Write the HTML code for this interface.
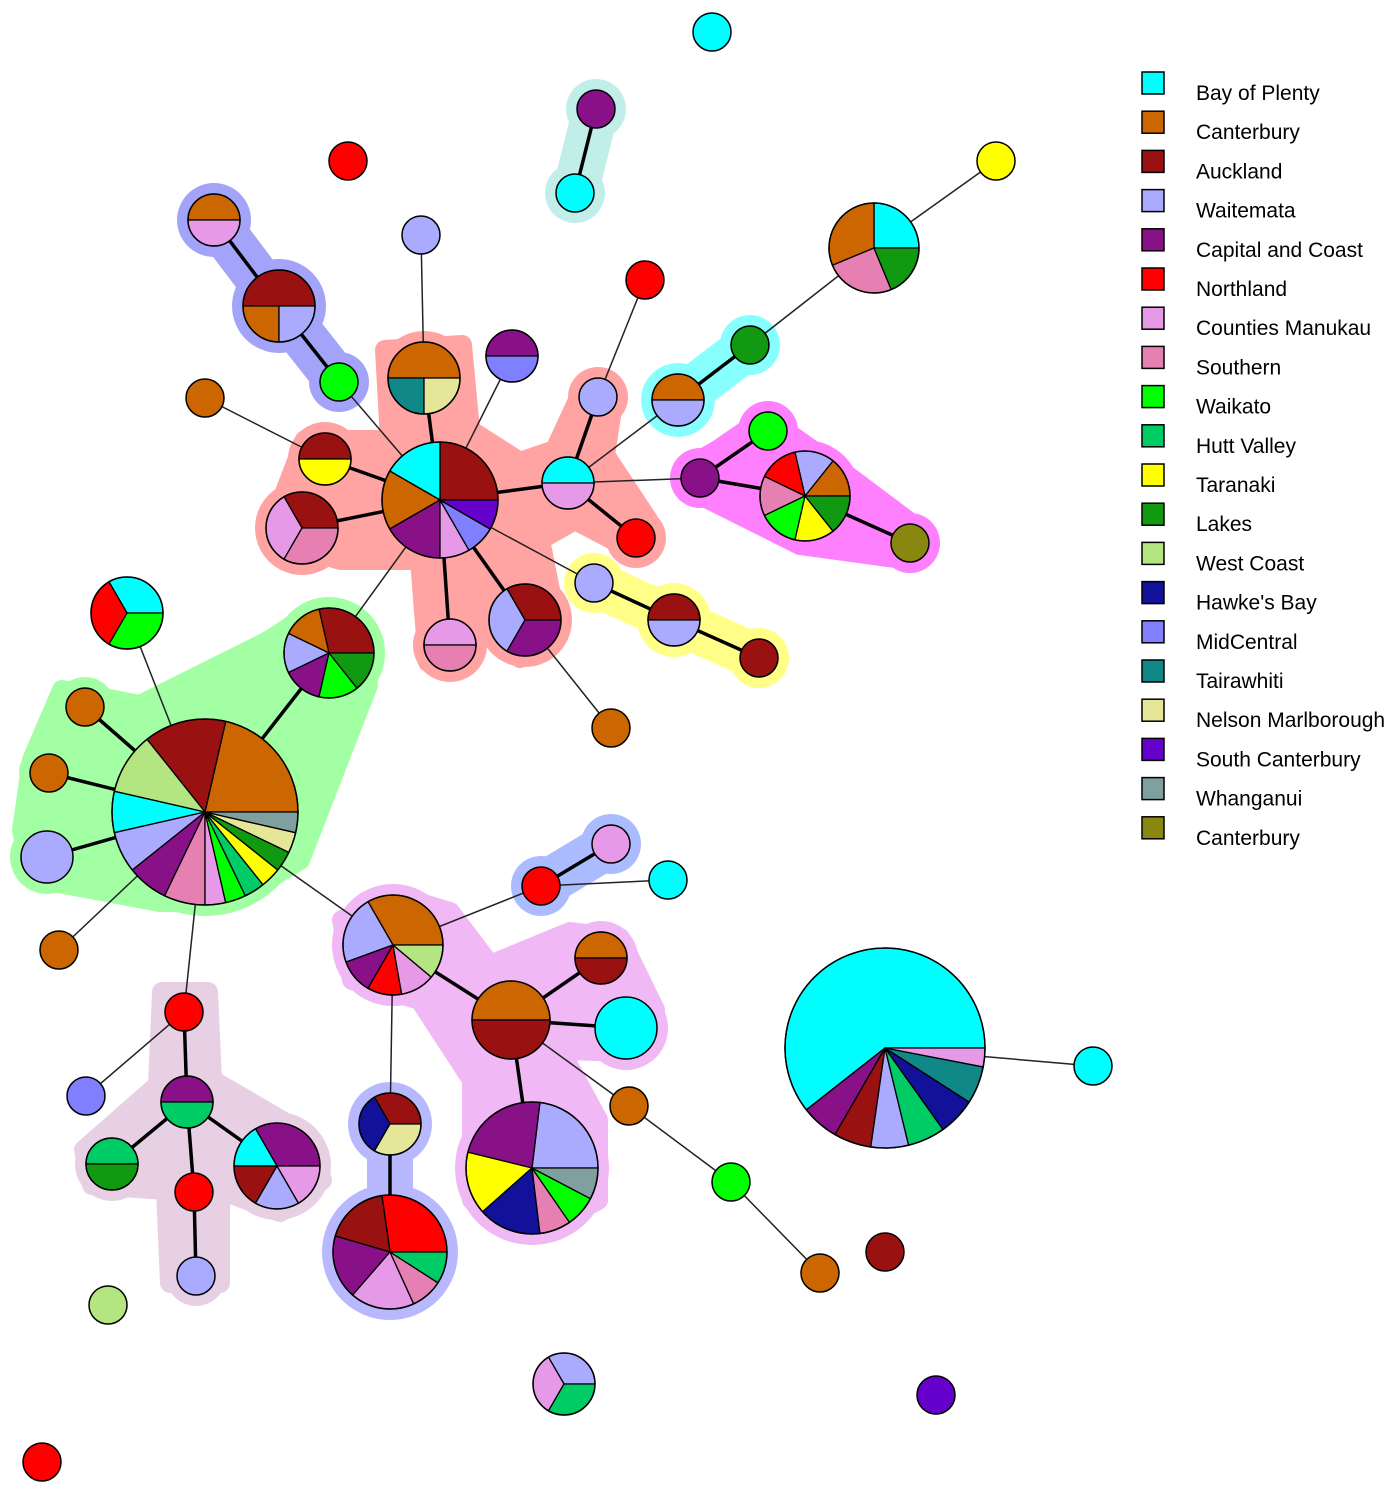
<!DOCTYPE html>
<html><head><meta charset="utf-8">
<style>
html,body{margin:0;padding:0;background:#fff;}
svg{display:block;font-family:"Liberation Sans",Arial,sans-serif;}
</style></head>
<body>
<svg id="chart" width="1400" height="1494" viewBox="0 0 1400 1494">
<g id="hulls"></g>
<g id="edges"></g>
<g id="nodes"></g>
<g id="legend"></g>
</svg>
<script>
const regions = ["Bay of Plenty","Canterbury","Auckland","Waitemata","Capital and Coast","Northland","Counties Manukau","Southern","Waikato","Hutt Valley","Taranaki","Lakes","West Coast","Hawke's Bay","MidCentral","Tairawhiti","Nelson Marlborough","South Canterbury","Whanganui","Canterbury"];
const regionColors = ["#00FFFF","#CC6600","#991111","#AAAAFF","#881188","#FF0000","#E699E6","#E680B3","#00FF00","#00CC66","#FFFF00","#119911","#B3E680","#111199","#7F7FFF","#118888","#E6E699","#6600CC","#80A0A0","#888811"];
const nodeSlices = [
 [[0,1]],[[4,1]],[[0,1]],[[5,1]],[[1,1],[6,1]],
 [[2,2],[1,1],[3,1]],[[8,1]],[[3,1]],[[10,1]],
 [[0,4],[1,5],[7,4],[11,3]],
 [[5,1]],[[11,1]],[[1,1],[3,1]],[[4,1],[14,1]],[[1,1]],
 [[1,2],[15,1],[16,1]],[[2,1],[10,1]],[[3,1]],[[8,1]],[[4,1]],[[0,1],[6,1]],[[5,1]],
 [[1,1],[3,1],[5,1],[7,1],[8,1],[10,1],[11,1]],[[19,1]],
 [[2,1],[6,1],[7,1]],
 [[2,3],[0,2],[1,2],[4,2],[6,1],[14,1],[17,1]],
 [[3,1]],[[2,1],[3,1]],[[2,1]],[[6,1],[7,1]],[[2,1],[3,1],[4,1]],[[1,1]],
 [[0,1],[5,1],[8,1]],
 [[2,2],[1,1],[3,1],[4,1],[8,1],[11,1]],
 [[1,1]],[[1,1]],[[3,1]],
 [[1,6],[2,4],[12,3],[0,2],[3,2],[4,2],[7,2],[6,1],[8,1],[9,1],[10,1],[11,1],[16,1],[18,1]],
 [[1,1]],[[6,1]],[[5,1]],[[0,1]],
 [[1,3],[3,2],[4,1],[5,1],[6,1],[12,1]],
 [[1,1],[2,1]],[[1,1],[2,1]],[[0,1]],
 [[5,1]],[[4,1],[9,1]],[[14,1]],[[9,1],[11,1]],[[5,1]],
 [[4,2],[0,1],[2,1],[3,1],[6,1]],
 [[3,1]],[[12,1]],[[2,1],[13,1],[16,1]],
 [[5,3],[2,2],[4,2],[6,2],[7,1],[9,1]],
 [[3,3],[4,3],[10,2],[13,2],[7,1],[8,1],[18,1]],
 [[1,1]],[[8,1]],[[1,1]],[[2,1]],
 [[0,20],[4,2],[2,2],[3,2],[9,2],[13,2],[15,2],[6,1]],
 [[0,1]],[[3,1],[6,1],[9,1]],[[17,1]],[[5,1]]
];
const layout = [
 [712,32,19],[596,109,19],[575,193,19],[348,161,19],[214,220,26],
 [279,306,36],[339,382,19],[421,235,19],[996,161,19],
 [874,248,45],
 [645,280,19],[750,345,19],[678,400,26],[512,356,26],[205,398,19],
 [424,378,36],[325,459,26],[598,397,19],[768,431,19],[700,478,19],[568,483,26],[636,538,19],
 [805,496,45],[910,543,19],
 [302,528,36],
 [440,500,58],
 [594,583,19],[674,620,26],[759,658,19],[450,645,26],[525,620,36],[611,728,19],
 [127,613,36],
 [329,653,45],
 [85,707,19],[49,773,19],[47,857,26],
 [205,812,93],
 [59,950,19],[611,844,19],[541,886,19],[668,880,19],
 [393,945,50],
 [601,958,26],[511,1020,39],[626,1028,31],
 [184,1012,19],[187,1102,26],[86,1096,19],[112,1164,26],[194,1192,19],
 [277,1166,43],
 [196,1276,19],[108,1305,19],[390,1124,31],
 [390,1252,57],
 [532,1168,66],
 [629,1106,19],[731,1182,19],[820,1273,19],[885,1252,19],
 [885,1048,100],
 [1093,1066,19],[564,1384,31],[936,1395,19],[42,1462,19]
];
const thickEdges = [[1,2],[4,5],[5,6],[15,25],[16,25],[24,25],[25,20],[20,17],[20,21],[25,29],[25,30],[12,11],[19,18],[19,22],[22,23],[26,27],[27,28],[33,37],[34,37],[35,37],[36,37],[42,44],[44,43],[44,45],[44,56],[46,47],[47,49],[47,50],[47,51],[50,52],[54,55],[39,40]];
const thinEdges = [[9,8],[9,11],[12,20],[7,15],[14,16],[6,25],[10,17],[13,25],[25,26],[30,31],[32,37],[37,38],[37,42],[37,46],[46,48],[42,40],[40,41],[42,54],[44,57],[57,58],[58,59],[61,62],[20,19],[25,33]];
const hullGroups = [
 {c:"#C2EEEA",n:[1,2],e:[[1,2]],p:null},
 {c:"#A3A3FA",n:[4,5,6],e:[[4,5],[5,6]],p:null},
 {c:"#FFA3A3",n:[25,15,16,24,20,17,21,29,30],e:[[15,25],[16,25],[24,25],[25,20],[20,17],[20,21],[25,29],[25,30]],
  p:[[385,350],[462,345],[470,430],[520,462],[555,450],[585,385],[615,390],[605,455],[648,520],[636,552],[575,520],[540,540],[558,630],[520,658],[490,610],[470,660],[428,662],[420,560],[340,560],[278,540],[282,500],[305,440],[390,440]]},
 {c:"#88FFFF",n:[12,11],e:[[12,11]],p:null},
 {c:"#FF80FF",n:[19,18,22,23],e:[[19,18],[19,22],[22,23]],p:[[700,460],[770,420],[840,470],[920,530],[910,560],[800,545],[700,495]]},
 {c:"#FFFF88",n:[26,27,28],e:[[26,27],[27,28]],p:null},
 {c:"#A3FFA3",n:[37,33,34,35,36],e:[[33,37],[34,37],[35,37],[36,37]],
  p:[[62,690],[140,705],[270,640],[300,620],[362,640],[368,685],[300,860],[230,902],[160,902],[32,878],[22,830],[32,760]]},
 {c:"#AABBFF",n:[39,40],e:[[39,40]],p:null},
 {c:"#F0B8F4",n:[42,43,44,45,56],e:[[42,44],[44,43],[44,45],[44,56]],
  p:[[342,920],[400,897],[450,912],[490,965],[570,932],[620,938],[655,1010],[640,1052],[560,1050],[598,1120],[598,1200],[540,1232],[472,1200],[472,1080],[420,1000],[352,980]]},
 {c:"#E8D0E4",n:[46,47,49,50,51,52],e:[[46,47],[47,49],[47,50],[47,51],[50,52]],
  p:[[162,992],[208,992],[212,1080],[298,1130],[322,1180],[280,1212],[220,1190],[220,1283],[170,1283],[166,1190],[92,1185],[84,1150],[158,1085]]},
 {c:"#B8B8FF",n:[54,55],e:[[54,55]],p:null}
];
const NS="http://www.w3.org/2000/svg";
function mk(tag,attrs,parent){const el=document.createElementNS(NS,tag);for(const k in attrs)el.setAttribute(k,attrs[k]);parent.appendChild(el);return el;}
const gH=document.getElementById('hulls'),gE=document.getElementById('edges'),gN=document.getElementById('nodes'),gL=document.getElementById('legend');
hullGroups.forEach(h=>{
  const g=mk('g',{fill:h.c,stroke:h.c},gH);
  
  
  if(h.p){
    const pg=mk('polygon',{points:h.p.map(q=>q.join(',')).join(' '),'stroke-width':20,'stroke-linejoin':'round'},g);
    
    
  }
  h.e.forEach(([a,b])=>{
    const l=mk('line',{x1:layout[a][0],y1:layout[a][1],x2:layout[b][0],y2:layout[b][1],'stroke-width':46,'stroke-linecap':'round'},g);
    
    
  });
  h.n.forEach(i=>{
    const c=mk('circle',{cx:layout[i][0],cy:layout[i][1],r:layout[i][2]+11,stroke:'none'},g);
    
    
  });
});
thinEdges.forEach(([a,b])=>{
  const l=mk('line',{x1:layout[a][0],y1:layout[a][1],x2:layout[b][0],y2:layout[b][1],stroke:'#222','stroke-width':1.5},gE);
  
  
});
thickEdges.forEach(([a,b])=>{
  const l=mk('line',{x1:layout[a][0],y1:layout[a][1],x2:layout[b][0],y2:layout[b][1],stroke:'#000','stroke-width':3.5},gE);
  
  
});
nodeSlices.forEach((sl,i)=>{
  const [cx,cy,r]=layout[i];
  const g=mk('g',{},gN);
  
  
  const tot=sl.reduce((s,d)=>s+d[1],0);
  if(sl.length===1){
    const c=mk('circle',{cx,cy,r,fill:regionColors[sl[0][0]],stroke:'#000','stroke-width':1.5},g);
    
    
    return;
  }
  let a0=0;
  sl.forEach(([ri,cnt])=>{
    const a1=a0+cnt/tot*2*Math.PI;
    const x0=cx+r*Math.cos(a0),y0=cy-r*Math.sin(a0),x1=cx+r*Math.cos(a1),y1=cy-r*Math.sin(a1);
    const large=(a1-a0)>Math.PI?1:0;
    const p=mk('path',{d:`M${cx},${cy}L${x0},${y0}A${r},${r} 0 ${large} 0 ${x1},${y1}Z`,fill:regionColors[ri],stroke:'#000','stroke-width':1.3,'stroke-linejoin':'round'},g);
    
    
    a0=a1;
  });
  const c=mk('circle',{cx,cy,r,fill:'none',stroke:'#000','stroke-width':1.5},g);
  
  
});
regions.forEach((name,i)=>{
  const y=72+i*39.2;
  const g=mk('g',{},gL);
  
  
  const s=mk('rect',{x:1142,y:y,width:22,height:22,fill:regionColors[i],stroke:'#000','stroke-width':1.5},g);
  
  
  const t=mk('text',{x:1196,y:y+28,'font-size':21,fill:'#000'},g);
  
  
  t.textContent=name;
});
</script>
</body></html>
